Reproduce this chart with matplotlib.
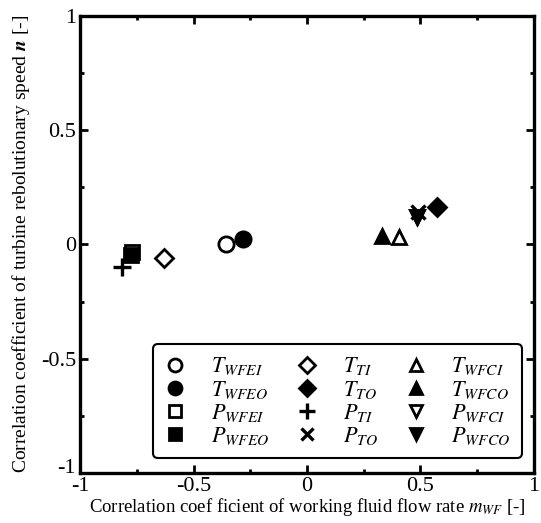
import matplotlib
matplotlib.use('Agg')
import matplotlib.pyplot as plt
from matplotlib.ticker import MultipleLocator

plt.rcParams['font.family'] = ['Liberation Serif', 'DejaVu Serif']
plt.rcParams['mathtext.fontset'] = 'stix'
plt.rcParams['axes.unicode_minus'] = False

# correlation coefficients (x: working fluid flow rate, y: turbine speed)
labels = [r'$T_{WFEI}$', r'$T_{WFEO}$', r'$P_{WFEI}$', r'$P_{WFEO}$',
          r'$T_{TI}$', r'$T_{TO}$', r'$P_{TI}$', r'$P_{TO}$',
          r'$T_{WFCI}$', r'$T_{WFCO}$', r'$P_{WFCI}$', r'$P_{WFCO}$']
x_vals = [-0.358, -0.283, -0.771, -0.775,
          -0.63, 0.573, -0.815, 0.489,
          0.405, 0.33, 0.485, 0.485]
y_vals = [0.003, 0.022, -0.032, -0.044,
          -0.061, 0.166, -0.10, 0.144,
          0.031, 0.039, 0.122, 0.122]
markers = ['o', 'o', 's', 's', 'D', 'D', '+', 'x', '^', '^', 'v', 'v']
filled = [False, True, False, True, False, True, True, True,
          False, True, False, True]
sizes = [11, 11, 9.5, 9.5, 9.5, 9.5, 13, 10, 10, 10, 10, 10]

fig = plt.figure(figsize=(5.41, 5.23), dpi=100)
ax = fig.add_axes([0.148, 0.0956, 0.839, 0.874])

for lab, x, y, m, f, s in zip(labels, x_vals, y_vals, markers, filled, sizes):
    ax.plot([x], [y], linestyle='none', marker=m, markersize=s,
            markeredgewidth=2.4 if m in '+x' else 2.0,
            markeredgecolor='black',
            markerfacecolor='black' if f else 'white',
            label=lab)

ax.set_xlim(-1, 1)
ax.set_ylim(-1, 1)
ax.xaxis.set_major_locator(MultipleLocator(0.5))
ax.yaxis.set_major_locator(MultipleLocator(0.5))
ax.xaxis.set_minor_locator(MultipleLocator(0.25))
ax.yaxis.set_minor_locator(MultipleLocator(0.25))
ax.tick_params(which='both', direction='in', top=True, right=True,
               labelsize=16, width=2)
ax.tick_params(which='major', length=6, pad=3)
ax.tick_params(which='minor', length=3)
ax.xaxis.set_major_formatter(plt.FuncFormatter(lambda v, p: '%g' % v))
ax.yaxis.set_major_formatter(plt.FuncFormatter(lambda v, p: '%g' % v))
for sp in ax.spines.values():
    sp.set_linewidth(2.4)

ax.set_xlabel(r'Correlation coef ficient of working fluid flow rate $m_{WF}$ [-]',
              fontsize=13.5, labelpad=0)
ax.set_ylabel(r'Correlation coefficient of turbine rebolutionary speed $\boldsymbol{n}$ [-]',
              fontsize=14, labelpad=6)

leg = ax.legend(ncol=3, loc='lower left', bbox_to_anchor=(0.161, 0.033),
                fontsize=16, frameon=True, fancybox=True, handlelength=1.0,
                handletextpad=1.1, columnspacing=1.2, labelspacing=0.05,
                borderpad=0.5, borderaxespad=0, markerscale=0.85)
frame = leg.get_frame()
frame.set_edgecolor('black')
frame.set_linewidth(1.5)
frame.set_alpha(1)

# lift the bottom y label so it clears the x "-1"
fig.canvas.draw()
for t in ax.yaxis.get_major_ticks():
    if abs(t.get_loc() + 1) < 1e-9:
        t.label1.set_verticalalignment('baseline')

fig.savefig('out.png', dpi=100)
